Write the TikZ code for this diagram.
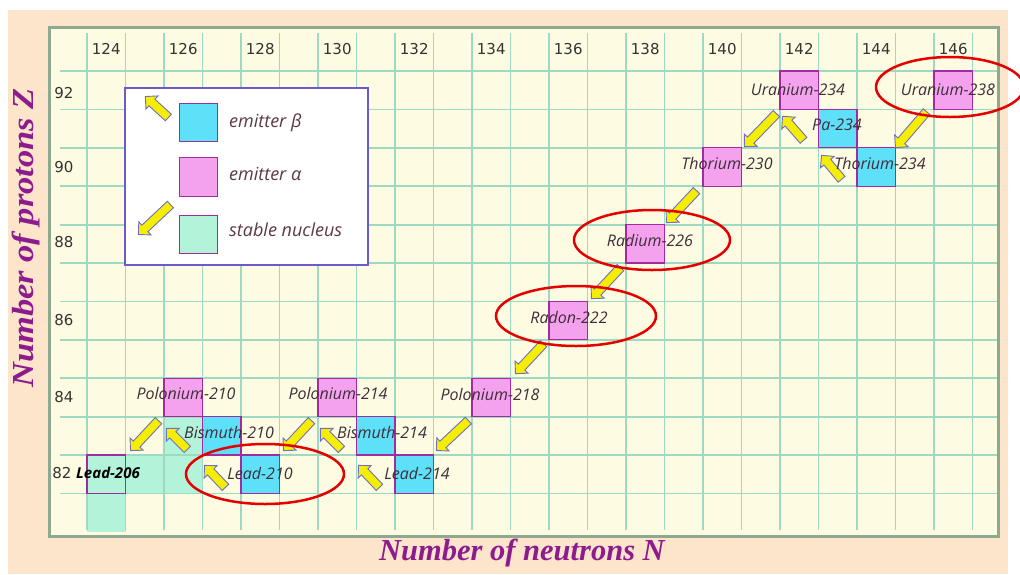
\documentclass[tikz,border=0pt]{standalone}
\usepackage{fontspec}
\setmainfont{Open Sans}
\newfontfamily\lblfont{Open Sans}
\newfontfamily\tickfont{DejaVu Sans}
\newfontfamily\titlefont{Liberation Serif}
\usetikzlibrary{shapes.arrows,calc}
\definecolor{beige}{HTML}{FCE5CA}
\definecolor{cream}{HTML}{FDFBE2}
\definecolor{gridc}{HTML}{9ED9C2}
\definecolor{framec}{HTML}{8FA890}
\definecolor{pinkc}{HTML}{F5A2EE}
\definecolor{bluec}{HTML}{5DE0F8}
\definecolor{mintc}{HTML}{B2F3DA}
\definecolor{cellb}{HTML}{A02CA0}
\definecolor{legb}{HTML}{6A5BC8}
\definecolor{arrf}{HTML}{F5EE00}
\definecolor{arrb}{HTML}{6E6EC8}
\definecolor{txt}{HTML}{3E2E3A}
\definecolor{legt}{HTML}{5B3A45}
\definecolor{tickc}{HTML}{333333}
\definecolor{titlec}{HTML}{8E1B8E}
\definecolor{redc}{HTML}{E50000}
\newcommand\cx[1]{87+38.5*(#1-124)+19.25}
\newcommand\cy[1]{71+38.4*(92-#1)+19.2}
\newcommand\yarr[2]{\path let \p1=(#1), \p2=(#2), \n1={atan2(\y2-\y1,\x2-\x1)}, \n2={veclen(\x2-\x1,\y2-\y1)} in node[yarrow, rotate=\n1, minimum height=\n2] at ($(#1)!0.5!(#2)$) {};}
\tikzset{
  gridline/.style={draw=gridc, line width=1.8pt},
  cell/.style={rectangle, draw=cellb, line width=1.2pt, minimum width=38.5pt, minimum height=38.4pt, inner sep=0pt},
  pinkcell/.style={cell, fill=pinkc},
  bluecell/.style={cell, fill=bluec},
  stablecell/.style={cell, fill=mintc},
  stablefill/.style={rectangle, fill=mintc, minimum width=38.5pt, minimum height=38.4pt, inner sep=0pt},
  yarrow/.style={single arrow, draw=arrb, fill=arrf, line width=0.9pt, inner xsep=0pt, inner ysep=4pt, minimum width=0pt, single arrow head extend=4.5pt, single arrow head indent=0pt},
  iso/.style={font=\lblfont\itshape\fontsize{16}{18}\selectfont, text=txt, inner sep=0pt},
  ticklbl/.style={font=\tickfont\fontsize{15}{17}\selectfont, text=tickc, inner sep=0pt},
  legtext/.style={font=\lblfont\itshape\fontsize{18}{20}\selectfont, text=legt, anchor=west, inner sep=0pt},
  ellip/.style={draw=redc, line width=2.5pt},
  axtitle/.style={font=\titlefont\bfseries\itshape\fontsize{30.5}{34}\selectfont, text=titlec, inner sep=0pt}
}
\begin{document}
\begin{tikzpicture}[x=1pt,y=-1pt]
\useasboundingbox (0,0) rectangle (1020,574);
\fill[beige] (8,10) rectangle (1008,574);
\fill[cream] (49,27) rectangle (998,536);
% stable nuclei (fill only)
\node[stablefill] (s1) at ({\cx{125}},{\cy{82}}) {};
\node[stablefill] (s2) at ({\cx{126}},{\cy{82}}) {};
\node[stablefill] (s3) at ({\cx{126}},{\cy{83}}) {};
\node[stablefill] (s4) at ({\cx{124}},{\cy{81}}) {};
% grid
\foreach \k in {0,...,23} \draw[gridline] ({87+38.5*\k},33) -- ({87+38.5*\k},530);
\foreach \j in {0,...,11} \draw[gridline] (60,{71+38.4*\j}) -- (998,{71+38.4*\j});
\draw[draw=framec, line width=3pt] (49,27) rectangle (998,536);
% tick labels
\foreach \n in {124,126,...,146} \node[ticklbl] (t\n) at ({\cx{\n}},49) {\n};
\node[ticklbl] (z92) at (64,93) {92};
\node[ticklbl] (z90) at (64,167) {90};
\node[ticklbl] (z88) at (64,242) {88};
\node[ticklbl] (z86) at (64,320) {86};
\node[ticklbl] (z84) at (64,397) {84};
\node[ticklbl] (z82) at (62,473) {82};
% legend
\node[draw=legb, fill=white, line width=1.5pt, minimum width=243pt, minimum height=177pt, inner sep=0pt] (legend) at (246.5,176.5) {};
\node[bluecell] (lb) at (198.5,122.5) {};
\node[pinkcell] (lp) at (198.5,177) {};
\node[stablecell] (ls) at (198.5,234.5) {};
\node[legtext] (lbt) at (229,123) {emitter β};
\node[legtext] (lpt) at (229,174) {emitter α};
\node[legtext] (lst) at (229,230) {stable nucleus};
\coordinate (lbs) at (170,119); \coordinate (lbe) at (147,98);
\coordinate (las) at (172,203); \coordinate (lae) at (140,233);
\yarr{lbs}{lbe}
\yarr{las}{lae}
% nuclei
\node[pinkcell] (u238) at ({\cx{146}},{\cy{92}}) {};
\node[pinkcell] (u234) at ({\cx{142}},{\cy{92}}) {};
\node[bluecell] (pa234) at ({\cx{143}},{\cy{91}}) {};
\node[bluecell] (th234) at ({\cx{144}},{\cy{90}}) {};
\node[pinkcell] (th230) at ({\cx{140}},{\cy{90}}) {};
\node[pinkcell] (ra226) at ({\cx{138}},{\cy{88}}) {};
\node[pinkcell] (rn222) at ({\cx{136}},{\cy{86}}) {};
\node[pinkcell] (po218) at ({\cx{134}},{\cy{84}}) {};
\node[pinkcell] (po214) at ({\cx{130}},{\cy{84}}) {};
\node[bluecell] (bi214) at ({\cx{131}},{\cy{83}}) {};
\node[bluecell] (pb214) at ({\cx{132}},{\cy{82}}) {};
\node[pinkcell] (po210) at ({\cx{126}},{\cy{84}}) {};
\node[bluecell] (bi210) at ({\cx{127}},{\cy{83}}) {};
\node[bluecell] (pb210) at ({\cx{128}},{\cy{82}}) {};
\node[stablecell] (pb206) at ({\cx{124}},{\cy{82}}) {};
% alpha decays
\coordinate (a1s) at (928,110); \coordinate (a1e) at (897,146);
\coordinate (a2s) at (778,112); \coordinate (a2e) at (746,145);
\coordinate (a3s) at (698,189); \coordinate (a3e) at (668,221);
\coordinate (a4s) at (622,266); \coordinate (a4e) at (593,297);
\coordinate (a5s) at (545,342); \coordinate (a5e) at (517,372);
\coordinate (a6s) at (470,419); \coordinate (a6e) at (438,449);
\coordinate (a7s) at (313,419); \coordinate (a7e) at (285,449);
\coordinate (a8s) at (160,419); \coordinate (a8e) at (132,449);
\yarr{a1s}{a1e}\yarr{a2s}{a2e}\yarr{a3s}{a3e}\yarr{a4s}{a4e}
\yarr{a5s}{a5e}\yarr{a6s}{a6e}\yarr{a7s}{a7e}\yarr{a8s}{a8e}
% beta decays
\coordinate (b1s) at (805,142); \coordinate (b1e) at (784,118);
\coordinate (b2s) at (843,181); \coordinate (b2e) at (823,157);
\coordinate (b3s) at (189,451); \coordinate (b3e) at (168,430);
\coordinate (b4s) at (227,489); \coordinate (b4e) at (206,467);
\coordinate (b5s) at (343,451); \coordinate (b5e) at (322,430);
\coordinate (b6s) at (381,489); \coordinate (b6e) at (360,467);
\yarr{b1s}{b1e}\yarr{b2s}{b2e}\yarr{b3s}{b3e}
\yarr{b4s}{b4e}\yarr{b5s}{b5e}\yarr{b6s}{b6e}
% labels
\node[iso] (lu238) at (948,90) {Uranium-238};
\node[iso] (lu234) at (798,90) {Uranium-234};
\node[iso] (lpa234) at (837,125) {Pa-234};
\node[iso] (lth234) at (880,163) {Thorium-234};
\node[iso] (lth230) at (727,163) {Thorium-230};
\node[iso] (lra226) at (650,240) {Radium-226};
\node[iso] (lrn222) at (569,317) {Radon-222};
\node[iso] (lpo218) at (490,394) {Polonium-218};
\node[iso] (lpo214) at (338,393) {Polonium-214};
\node[iso] (lbi214) at (382,432) {Bismuth-214};
\node[iso] (lpb214) at (417,473) {Lead-214};
\node[iso] (lpo210) at (186,393) {Polonium-210};
\node[iso] (lbi210) at (229,432) {Bismuth-210};
\node[iso] (lpb210) at (260,473) {Lead-210};
\node[iso, text=black, font=\lblfont\itshape\bfseries\fontsize{15}{17}\selectfont] (lpb206) at (108,473) {Lead-206};
% axis titles
\node[axtitle] (xt) at (522,553) {Number of neutrons N};
\node[axtitle, rotate=90] (yt) at (26,238) {\scalebox{1.13}[1]{Number of protons Z}};
% highlights
\draw[ellip] (950,87) ellipse [x radius=74, y radius=30];
\draw[ellip] (652,240) ellipse [x radius=78, y radius=30];
\draw[ellip] (576,316) ellipse [x radius=80, y radius=30];
\draw[ellip] (265,474) ellipse [x radius=79, y radius=30];
\end{tikzpicture}
\end{document}
